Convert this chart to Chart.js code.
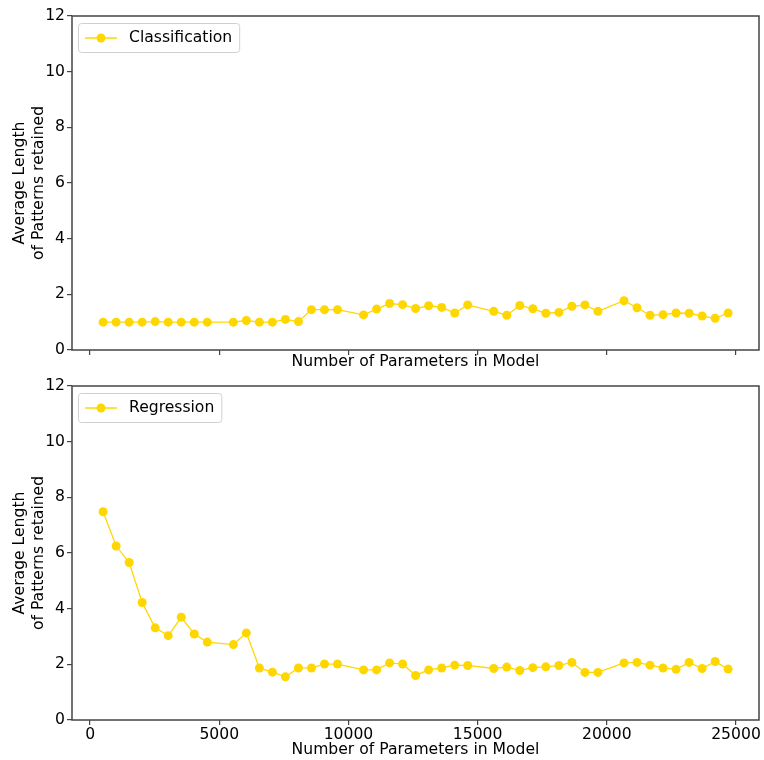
<!DOCTYPE html>
<html lang="en">
<head>
<meta charset="UTF-8">
<title>Average Length of Patterns retained</title>
<script src="https://cdn.jsdelivr.net/npm/chart.js@4"></script>
<style>
  body { margin: 0; background: #fff; }
  .panel { position: absolute; left: 0; width: 764px; }
  #top-panel { top: 0; height: 374px; }
  #bottom-panel { top: 374px; height: 386px; }
</style>
</head>
<body>

<div class="panel" id="top-panel"><canvas id="classification-chart" width="764" height="374"></canvas></div>
<div class="panel" id="bottom-panel"><canvas id="regression-chart" width="764" height="386"></canvas></div>

<script>
// number of parameters in the model (x positions)
var paramCounts = [504, 1008, 1512, 2016, 2520, 3024, 3528, 4032, 4536,
    5544, 6048, 6552, 7056, 7560, 8064, 8568, 9072, 9576,
    10584, 11088, 11592, 12096, 12600, 13104, 13608, 14112, 14616,
    15624, 16128, 16632, 17136, 17640, 18144, 18648, 19152, 19656,
    20664, 21168, 21672, 22176, 22680, 23184, 23688, 24192, 24696];

var classificationLen = [1.0, 1.0, 1.0, 1.0, 1.02, 1.0, 1.0, 1.0, 1.0,
    1.0, 1.06, 1.0, 1.0, 1.1, 1.02, 1.45, 1.45, 1.45,
    1.26, 1.47, 1.67, 1.63, 1.49, 1.59, 1.53, 1.33, 1.62,
    1.39, 1.25, 1.6, 1.48, 1.32, 1.35, 1.57, 1.62, 1.39,
    1.77, 1.52, 1.25, 1.27, 1.33, 1.32, 1.22, 1.14, 1.33];

var regressionLen = [7.48, 6.25, 5.66, 4.22, 3.31, 3.03, 3.69, 3.09, 2.8,
    2.71, 3.13, 1.87, 1.72, 1.55, 1.87, 1.87, 2.01, 2.01,
    1.8, 1.8, 2.05, 2.01, 1.6, 1.8, 1.87, 1.97, 1.96,
    1.85, 1.9, 1.78, 1.88, 1.91, 1.96, 2.07, 1.71, 1.71,
    2.05, 2.07, 1.97, 1.87, 1.82, 2.07, 1.85, 2.1, 1.83];

var xTickValues = [0, 5000, 10000, 15000, 20000, 25000];
var yTickValues = [0, 2, 4, 6, 8, 10, 12];

var GOLD = '#FFD700';
var AXIS = '#444';
var FONT = "'DejaVu Sans', sans-serif";
var FONT_SIZE = 15.6;

Chart.defaults.font.family = FONT;
Chart.defaults.font.size = FONT_SIZE;
Chart.defaults.color = '#000';

function toPoints(ys) {
    return ys.map(function(y, i) { return {x: paramCounts[i], y: y}; });
}

// matplotlib-ish frame round the plot area
var framePlugin = {
    id: 'frame',
    afterDraw: function(chart) {
        var a = chart.chartArea, ctx = chart.ctx;
        ctx.save();
        ctx.strokeStyle = AXIS;
        ctx.lineWidth = 1.5;
        ctx.strokeRect(a.left, a.top, a.right - a.left, a.bottom - a.top);
        ctx.restore();
    }
};

// legend box in the upper left corner, line + marker like matplotlib
var cornerLegend = {
    id: 'cornerLegend',
    afterDatasetsDraw: function(chart) {
        var a = chart.chartArea, ctx = chart.ctx;
        var ds = chart.data.datasets[0];
        ctx.save();
        ctx.font = FONT_SIZE + 'px ' + FONT;
        var tw = ctx.measureText(ds.label).width;
        var x = a.left + 6, y = a.top + 7, w = 51 + tw + 7, h = 29, r = 3;
        ctx.fillStyle = 'rgba(255,255,255,0.8)';
        ctx.strokeStyle = '#d0d0d0';
        ctx.lineWidth = 1;
        ctx.beginPath();
        ctx.roundRect(x + 0.5, y + 0.5, w, h, r);
        ctx.fill();
        ctx.stroke();
        var cy = y + h / 2 + 0.5;
        ctx.strokeStyle = GOLD;
        ctx.lineWidth = 1.5;
        ctx.beginPath();
        ctx.moveTo(x + 7, cy);
        ctx.lineTo(x + 39, cy);
        ctx.stroke();
        ctx.fillStyle = GOLD;
        ctx.beginPath();
        ctx.arc(x + 23, cy, 4.5, 0, Math.PI * 2);
        ctx.fill();
        ctx.fillStyle = '#000';
        ctx.textBaseline = 'middle';
        ctx.fillText(ds.label, x + 51, cy);
        ctx.restore();
    }
};

function makeChart(canvasId, label, values, showXLabels, padTop, xAxisHeight, xTitlePad) {
    var ctx = document.getElementById(canvasId).getContext('2d');
    return new Chart(ctx, {
        type: 'line',
        data: {
            datasets: [{
                label: label,
                data: toPoints(values),
                borderColor: GOLD,
                backgroundColor: GOLD,
                borderWidth: 1.3,
                pointRadius: 4.5,
                pointHoverRadius: 4.5,
                pointBorderWidth: 0,
                tension: 0,
                fill: false
            }]
        },
        options: {
            responsive: false,
            animation: false,
            devicePixelRatio: 1,
            layout: { padding: { top: padTop, right: 5, left: 0, bottom: 0 } },
            plugins: {
                legend: { display: false },
                tooltip: { enabled: false }
            },
            scales: {
                x: {
                    type: 'linear',
                    min: -700,
                    max: 25890,
                    afterBuildTicks: function(scale) {
                        scale.ticks = xTickValues.map(function(v) { return {value: v}; });
                    },
                    afterFit: function(scale) { scale.height = xAxisHeight; },
                    grid: { drawOnChartArea: false, drawTicks: true, tickLength: 5, color: AXIS, lineWidth: 1.2 },
                    border: { display: false },
                    ticks: {
                        display: showXLabels,
                        padding: 1,
                        maxRotation: 0,
                        callback: function(v) { return String(v); }
                    },
                    title: {
                        display: true,
                        text: 'Number of Parameters in Model',
                        padding: { top: 0, bottom: xTitlePad }
                    }
                },
                y: {
                    min: 0,
                    max: 12,
                    afterBuildTicks: function(scale) {
                        scale.ticks = yTickValues.map(function(v) { return {value: v}; });
                    },
                    afterFit: function(scale) { scale.width = 72; },
                    grid: { drawOnChartArea: false, drawTicks: true, tickLength: 5, color: AXIS, lineWidth: 1.2 },
                    border: { display: false },
                    ticks: { padding: 2 },
                    title: {
                        display: true,
                        text: ['Average Length', 'of Patterns retained'],
                        padding: { top: 11, bottom: 0 }
                    }
                }
            }
        },
        plugins: [framePlugin, cornerLegend]
    });
}

makeChart('classification-chart', 'Classification', classificationLen, false, 16, 24, 3);
makeChart('regression-chart', 'Regression', regressionLen, true, 12, 40, 1);
</script>

</body>
</html>
